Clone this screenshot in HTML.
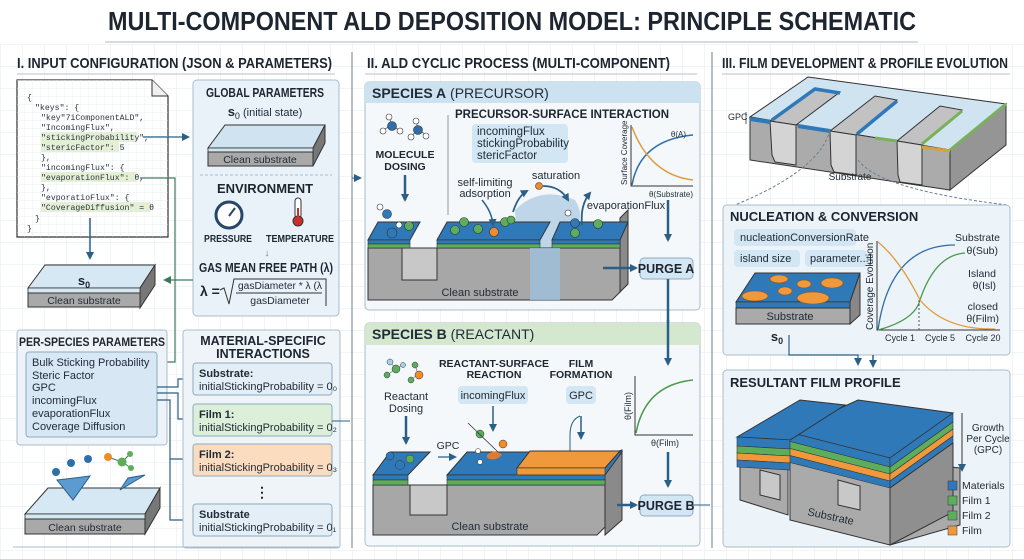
<!DOCTYPE html>
<html><head><meta charset="utf-8"><style>
html,body{margin:0;padding:0;background:#fff;}
svg{display:block;font-family:"Liberation Sans Narrow","Liberation Sans",sans-serif;}
.h{font-weight:bold;fill:#1d2530;}
.t{fill:#222c38;}
.m{font-family:"Liberation Mono",monospace;fill:#2a3340;}
</style></head><body>
<svg width="1024" height="559" viewBox="0 0 1024 559" xmlns="http://www.w3.org/2000/svg">
<defs>
<pattern id="grid" width="22" height="22" patternUnits="userSpaceOnUse"><path d="M22 0H0V22" fill="none" stroke="#e6ebf0" stroke-width="1"/></pattern>
<pattern id="g2" width="8" height="8" patternUnits="userSpaceOnUse"><path d="M8 0H0V8" fill="none" stroke="#e3e8ee" stroke-width="0.7"/></pattern>
<marker id="ar" markerWidth="8" markerHeight="8" refX="6" refY="4" orient="auto" markerUnits="userSpaceOnUse"><path d="M0,0 L8,4 L0,8 z" fill="#2b5f86"/></marker>
<marker id="arg" markerWidth="8" markerHeight="8" refX="6" refY="4" orient="auto" markerUnits="userSpaceOnUse"><path d="M0,0 L8,4 L0,8 z" fill="#3d7a5d"/></marker>
</defs>
<rect width="1024" height="559" fill="#fff"/>
<rect width="1024" height="559" fill="url(#grid)"/>
<rect x="0" y="0" width="1024" height="44" fill="#fff"/>
<text x="512" y="30" text-anchor="middle" class="h" font-size="26" textLength="808" lengthAdjust="spacingAndGlyphs">MULTI-COMPONENT ALD DEPOSITION MODEL: PRINCIPLE SCHEMATIC</text>
<line x1="105" y1="42" x2="918" y2="42" stroke="#c8cfd6" stroke-width="1.5"/>
<line x1="352" y1="52" x2="352" y2="548" stroke="#6d7d8c" stroke-width="1"/>
<line x1="712" y1="52" x2="712" y2="548" stroke="#6d7d8c" stroke-width="1"/>

<!-- SECTION I -->
<text x="17" y="68" class="h" font-size="15" textLength="315" lengthAdjust="spacingAndGlyphs">I. INPUT CONFIGURATION (JSON &amp; PARAMETERS)</text>
<line x1="17" y1="74" x2="335" y2="74" stroke="#d0d6dc" stroke-width="1.5"/>
<path d="M17 80 H152 L168 96 V237 H17 Z" fill="#fff" stroke="#333" stroke-width="1.2"/>
<path d="M17 80 H152 L168 96 V237 H17 Z" fill="url(#g2)"/>
<path d="M152 80 V96 H168" fill="#f0f0f0" stroke="#333" stroke-width="1"/>
<rect x="41" y="132" width="96" height="10" fill="#e4efd6"/>
<rect x="41" y="142" width="78" height="10" fill="#e4efd6"/>
<rect x="41" y="172" width="96" height="10" fill="#e4efd6"/>
<rect x="41" y="202" width="110" height="10" fill="#e4efd6"/>
<g class="m" font-size="8.2">
<text x="27" y="100">{</text>
<text x="35" y="110">"keys": {</text>
<text x="41" y="120">"key"7iComponentALD",</text>
<text x="41" y="130">"IncomingFlux",</text>
<text x="41" y="140">"stickingProbability",</text>
<text x="41" y="150">"stericFactor": 5</text>
<text x="41" y="160">},</text>
<text x="41" y="170">"incomingFlux": {</text>
<text x="41" y="180">"evaporationFlux": θ,</text>
<text x="41" y="190">},</text>
<text x="41" y="200">"evporatioFlux": {</text>
<text x="41" y="210">"CoverageDiffusion" = θ</text>
<text x="35" y="221">}</text>
<text x="27" y="231">}</text>
</g>
<path d="M143 137 H188" stroke="#2b5f86" stroke-width="1.3" fill="none" marker-end="url(#ar)"/>
<path d="M140 178 H175 V362 H160" stroke="#3d7a5d" stroke-width="1.2" fill="none"/>
<path d="M90 218 V258" stroke="#2b5f86" stroke-width="1.5" fill="none" marker-end="url(#ar)"/>
<rect x="193" y="80" width="146" height="236" rx="4" fill="#e9f2f9" stroke="#a9bccb"/>
<text x="265" y="97" text-anchor="middle" class="h" font-size="13" textLength="118" lengthAdjust="spacingAndGlyphs">GLOBAL PARAMETERS</text>
<text x="265" y="116" text-anchor="middle" class="t" font-size="11"><tspan font-weight="bold" font-size="13">s</tspan><tspan font-size="9" dy="3">0</tspan><tspan dy="-3"> (initial state)</tspan></text>
<polygon points="225,125 325,125 313,148 208,148" fill="#cfe3f1" stroke="#333"/>
<polygon points="325,125 325,143 313,166 313,148" fill="#777" stroke="#333"/>
<rect x="208" y="148" width="105" height="4" fill="#cfe3f1" stroke="#333" stroke-width="0.8"/>
<rect x="208" y="152" width="105" height="14" fill="#a9a9a9" stroke="#333"/>
<text x="260" y="163" text-anchor="middle" class="t" font-size="10.5">Clean substrate</text>
<line x1="200" y1="175" x2="332" y2="175" stroke="#a9bccb" stroke-dasharray="3,2"/>
<text x="265" y="193" text-anchor="middle" class="h" font-size="13">ENVIRONMENT</text>
<circle cx="229" cy="215" r="13" fill="#fff" stroke="#27476a" stroke-width="3"/>
<line x1="229" y1="216" x2="235" y2="208" stroke="#27476a" stroke-width="2"/>
<rect x="295" y="198" width="6" height="20" rx="3" fill="#fff" stroke="#333"/>
<circle cx="298" cy="221" r="5" fill="#c9302c" stroke="#333"/>
<rect x="297" y="208" width="2" height="12" fill="#c9302c"/>
<text x="228" y="242" text-anchor="middle" class="h" font-size="10.5" textLength="48" lengthAdjust="spacingAndGlyphs">PRESSURE</text>
<text x="300" y="242" text-anchor="middle" class="h" font-size="10.5" textLength="68" lengthAdjust="spacingAndGlyphs">TEMPERATURE</text>
<text x="267" y="256" text-anchor="middle" fill="#6a7f90" font-size="10">↓</text>
<text x="266" y="272" text-anchor="middle" class="h" font-size="12.5" textLength="134" lengthAdjust="spacingAndGlyphs">GAS MEAN FREE PATH (λ)</text>
<text x="200" y="296" class="h" font-size="14">λ =</text>
<path d="M220 290 L224 288 L229 304 L234 279 H326 V306" fill="none" stroke="#333" stroke-width="1"/>
<text x="280" y="289" text-anchor="middle" class="t" font-size="10" textLength="84" lengthAdjust="spacingAndGlyphs">gasDiameter * λ (λ</text>
<line x1="236" y1="293" x2="322" y2="293" stroke="#333"/>
<text x="280" y="304" text-anchor="middle" class="t" font-size="10.5">gasDiameter</text>
<path d="M193 280 H165" stroke="#3d7a5d" stroke-width="1.3" fill="none" marker-end="url(#arg)"/>
<polygon points="45,265 155,265 140,288 28,288" fill="#d6e8f4" stroke="#333"/>
<polygon points="155,265 155,285 140,308 140,288" fill="#777" stroke="#333"/>
<rect x="28" y="288" width="112" height="5" fill="#d6e8f4" stroke="#333" stroke-width="0.8"/>
<rect x="28" y="293" width="112" height="14" fill="#a9a9a9" stroke="#333"/>
<text x="84" y="285" text-anchor="middle" class="h" font-size="13">s<tspan font-size="9" dy="3">0</tspan></text>
<text x="84" y="304" text-anchor="middle" class="t" font-size="10.5">Clean substrate</text>
<rect x="17" y="330" width="150" height="115" rx="3" fill="#edf3f8" stroke="#a9bccb"/>
<text x="92" y="346" text-anchor="middle" class="h" font-size="12" textLength="146" lengthAdjust="spacingAndGlyphs">PER-SPECIES PARAMETERS</text>
<rect x="26" y="352" width="131" height="85" rx="3" fill="#d7e8f4" stroke="#8eaabf"/>
<g class="t" font-size="11">
<text x="32" y="366">Bulk Sticking Probability</text>
<text x="32" y="379">Steric Factor</text>
<text x="32" y="391">GPC</text>
<text x="32" y="404">incomingFlux</text>
<text x="32" y="417">evaporationFlux</text>
<text x="32" y="430">Coverage Diffusion</text>
</g>
<path d="M157 387 H178 V379 H190" stroke="#2b5f86" fill="none" stroke-width="1.2" marker-end="url(#ar)"/>
<path d="M157 393 H178 V419 H190" stroke="#2b5f86" fill="none" stroke-width="1.2" marker-end="url(#ar)"/>
<path d="M157 400 H170 V459 H190" stroke="#2b5f86" fill="none" stroke-width="1.2" marker-end="url(#ar)"/>
<path d="M170 459 V520 H190" stroke="#2b5f86" fill="none" stroke-width="1.2" marker-end="url(#ar)"/>
<rect x="183" y="330" width="157" height="218" rx="3" fill="#eef4f8" stroke="#a9bccb"/>
<text x="263" y="345" text-anchor="middle" class="h" font-size="12.5">MATERIAL-SPECIFIC</text>
<text x="263" y="358" text-anchor="middle" class="h" font-size="12.5">INTERACTIONS</text>
<rect x="193" y="363" width="139" height="32" rx="3" fill="#e3eef7" stroke="#8eaabf"/>
<rect x="193" y="404" width="139" height="32" rx="3" fill="#dcefd9" stroke="#8eaabf"/>
<rect x="193" y="444" width="139" height="32" rx="3" fill="#fbdcbf" stroke="#8eaabf"/>
<rect x="193" y="504" width="139" height="32" rx="3" fill="#e3eef7" stroke="#8eaabf"/>
<g font-size="11" class="t">
<text x="199" y="377" font-weight="bold">Substrate:</text><text x="199" y="390">initialStickingProbability = 0₀</text>
<text x="199" y="418" font-weight="bold">Film 1:</text><text x="199" y="431">initialStickingProbability = 0₂</text>
<text x="199" y="458" font-weight="bold">Film 2:</text><text x="199" y="471">initialStickingProbability = 0₃</text>
<text x="199" y="518" font-weight="bold">Substrate</text><text x="199" y="531">initialStickingProbability = 0₁</text>
</g>
<text x="262" y="497" text-anchor="middle" class="h" font-size="14">⋮</text>
<path d="M332 421 H350" stroke="#2b5f86" fill="none"/>
<line x1="13" y1="547" x2="340" y2="547" stroke="#a9bccb"/>
<polygon points="48,488 160,488 145,514 25,514" fill="#d6e8f4" stroke="#333"/>
<polygon points="160,488 160,508 145,534 145,514" fill="#777" stroke="#333"/>
<rect x="25" y="514" width="120" height="5" fill="#d6e8f4" stroke="#333" stroke-width="0.8"/>
<rect x="25" y="519" width="120" height="15" fill="#a9a9a9" stroke="#333"/>
<text x="85" y="531" text-anchor="middle" class="t" font-size="10.5">Clean substrate</text>
<path d="M57 480 Q75 478 90 476 L73 500 Z" fill="#5b9bd0" stroke="#2b5f86"/>
<path d="M120 490 L145 475 L128 478 Z" fill="#5b9bd0" stroke="#2b5f86"/>
<circle cx="56" cy="472" r="4" fill="#2f6ea8"/><circle cx="71" cy="463" r="4" fill="#2f6ea8"/><circle cx="88" cy="459" r="4" fill="#2f6ea8"/>
<line x1="108" y1="457" x2="122" y2="462" stroke="#3d7a5d"/><line x1="122" y1="462" x2="130" y2="454" stroke="#3d7a5d"/><line x1="122" y1="462" x2="131" y2="468" stroke="#3d7a5d"/>
<circle cx="108" cy="457" r="4" fill="#f08c2a"/><circle cx="122" cy="462" r="4.5" fill="#5cae5c"/><circle cx="130" cy="454" r="3" fill="#5cae5c"/><circle cx="131" cy="468" r="3" fill="#5cae5c"/>

<!-- SECTION II -->
<text x="367" y="68" class="h" font-size="15" textLength="303" lengthAdjust="spacingAndGlyphs">II. ALD CYCLIC PROCESS (MULTI-COMPONENT)</text>
<line x1="365" y1="74" x2="697" y2="74" stroke="#d0d6dc" stroke-width="1.5"/>
<path d="M352 178 H360" stroke="#2b5f86" marker-end="url(#ar)"/>
<rect x="365" y="82" width="335" height="228" rx="4" fill="#f4f8fb" stroke="#a9bccb"/>
<path d="M369 82 H696 Q700 82 700 86 V103 H365 V86 Q365 82 369 82 Z" fill="#cde2f0"/>
<text x="372" y="98" class="t" font-size="14"><tspan font-weight="bold">SPECIES A</tspan> (PRECURSOR)</text>
<line x1="448" y1="115" x2="448" y2="215" stroke="#999"/>
<text x="455" y="118" class="h" font-size="11.5">PRECURSOR-SURFACE INTERACTION</text>
<rect x="472" y="124" width="96" height="39" rx="4" fill="#d3e6f3"/>
<g class="t" font-size="11.5"><text x="477" y="135">incomingFlux</text><text x="477" y="147">stickingProbability</text><text x="477" y="159">stericFactor</text></g>
<g stroke="#333" stroke-width="0.6">
<line x1="383" y1="130" x2="392" y2="125" /><line x1="392" y1="125" x2="400" y2="131"/><line x1="392" y1="125" x2="389" y2="117"/>
<circle cx="383" cy="131" r="3" fill="#fff"/><circle cx="392" cy="126" r="4.5" fill="#2f6ea8"/><circle cx="400" cy="131" r="3" fill="#fff"/><circle cx="389" cy="117" r="3" fill="#fff"/>
<line x1="411" y1="137" x2="418" y2="129"/><line x1="418" y1="129" x2="426" y2="135"/><line x1="418" y1="129" x2="416" y2="121"/>
<circle cx="411" cy="137" r="3" fill="#fff"/><circle cx="418" cy="130" r="4.5" fill="#2f6ea8"/><circle cx="426" cy="136" r="3" fill="#fff"/><circle cx="416" cy="121" r="3" fill="#fff"/>
</g>
<text x="405" y="158" text-anchor="middle" class="h" font-size="10.5">MOLECULE</text>
<text x="405" y="170" text-anchor="middle" class="h" font-size="10.5">DOSING</text>
<path d="M405 175 V200" stroke="#2b5f86" stroke-width="2.5" marker-end="url(#ar)"/>
<text x="485" y="186" text-anchor="middle" class="t" font-size="11">self-limiting</text>
<text x="485" y="197" text-anchor="middle" class="t" font-size="11">adsorption</text>
<text x="556" y="179" text-anchor="middle" class="t" font-size="11">saturation</text>
<text x="626" y="209" text-anchor="middle" class="t" font-size="11">evaporationFlux</text>
<path d="M515 210 Q540 185 575 200 Q585 215 575 230 L560 300 L520 300 Z" fill="#a8c8e0" opacity="0.7"/>
<polygon points="368,248 620,248 620,292 612,300 368,300" fill="#a7a7a7" stroke="#333"/>
<polygon points="620,218 628,210 628,284 620,292" fill="#8a8a8a" stroke="#333"/>
<polygon points="402,248 437,248 437,280 402,280" fill="#c8c8c8" stroke="#333"/>
<polygon points="368,240 410,240 420,222 378,222" fill="#2f79b9" stroke="#333"/>
<rect x="368" y="240" width="42" height="4" fill="#2f79b9" stroke="#333" stroke-width="0.6"/>
<rect x="368" y="244" width="42" height="4" fill="#5cae5c" stroke="#333" stroke-width="0.6"/>
<polygon points="437,240 540,240 550,222 447,222" fill="#2f79b9" stroke="#333"/>
<rect x="437" y="240" width="103" height="4" fill="#2f79b9" stroke="#333" stroke-width="0.6"/>
<rect x="437" y="244" width="103" height="4" fill="#5cae5c" stroke="#333" stroke-width="0.6"/>
<polygon points="552,240 620,240 628,222 560,222" fill="#2f79b9" stroke="#333"/>
<rect x="552" y="240" width="68" height="4" fill="#2f79b9" stroke="#333" stroke-width="0.6"/>
<rect x="552" y="244" width="68" height="4" fill="#5cae5c" stroke="#333" stroke-width="0.6"/>
<path d="M530 248 L560 248 L560 300 L530 300 Z" fill="#9fc2de" opacity="0.8"/>
<text x="480" y="296" text-anchor="middle" class="t" font-size="11">Clean substrate</text>
<g stroke="#333" stroke-width="0.6">
<circle cx="392" cy="233" r="5" fill="#2f79b9"/><circle cx="409" cy="226" r="4.5" fill="#5cae5c"/><circle cx="399" cy="225" r="3" fill="#fff"/><circle cx="387" cy="214" r="4.5" fill="#2f79b9"/><circle cx="380" cy="207" r="3" fill="#fff"/>
<circle cx="455" cy="230" r="4.5" fill="#5cae5c"/><circle cx="464" cy="222" r="4.5" fill="#5cae5c"/><circle cx="478" cy="229" r="4.5" fill="#5cae5c"/><circle cx="494" cy="232" r="4.5" fill="#f08c2a"/><circle cx="505" cy="222" r="4.5" fill="#5cae5c"/><circle cx="511" cy="220" r="4" fill="#5cae5c"/>
<circle cx="575" cy="223" r="4.5" fill="#2f79b9"/><circle cx="568" cy="213" r="3" fill="#fff"/><circle cx="575" cy="233" r="4.5" fill="#5cae5c"/><circle cx="598" cy="224" r="4.5" fill="#5cae5c"/>
<circle cx="539" cy="186" r="3.5" fill="#f08c2a"/>
</g>
<path d="M482 200 Q492 212 493 225" stroke="#2b5f86" stroke-width="1.5" fill="none" marker-end="url(#ar)"/>
<path d="M513 212 Q518 196 527 191" stroke="#2b5f86" stroke-width="1.8" fill="none" marker-end="url(#ar)"/>
<path d="M543 186 Q560 186 568 200" stroke="#2b5f86" stroke-width="1.8" fill="none" marker-end="url(#ar)"/>
<path d="M582 225 Q580 205 590 193" stroke="#2b5f86" stroke-width="1.8" fill="none" marker-end="url(#ar)"/>
<path d="M631 125 V186 H693" stroke="#333" fill="none"/>
<path d="M632 185 Q640 140 693 135" stroke="#2f6ea8" stroke-width="1.5" fill="none"/>
<path d="M632 127 Q650 175 693 180" stroke="#e09a3a" stroke-width="1.5" fill="none"/>
<text x="686" y="137" text-anchor="end" class="t" font-size="8">θ(A)</text>
<text x="627" y="185" class="t" font-size="8" transform="rotate(-90 627 185)">Surface Coverage</text>
<text x="693" y="197" text-anchor="end" class="t" font-size="8">θ(Substrate)</text>
<path d="M668 200 V240" stroke="#2b5f86" stroke-width="2.5" marker-end="url(#ar)"/>
<path d="M603 268 H636" stroke="#2b5f86" stroke-width="2.5" marker-end="url(#ar)"/>
<rect x="640" y="258" width="53" height="21" rx="4" fill="#d3e6f3" stroke="#8eaabf"/>
<text x="666" y="273" text-anchor="middle" class="h" font-size="12.5">PURGE A</text>
<path d="M668 279 V365" stroke="#2b5f86" stroke-width="2.5" fill="none"/>
<rect x="365" y="323" width="335" height="223" rx="4" fill="#f4f8fb" stroke="#a9bccb"/>
<path d="M369 323 H696 Q700 323 700 327 V345 H365 V327 Q365 323 369 323 Z" fill="#d3e8cf"/>
<text x="372" y="339" class="t" font-size="14"><tspan font-weight="bold">SPECIES B</tspan> (REACTANT)</text>
<path d="M668 320 V364" stroke="#2b5f86" stroke-width="2.5" marker-end="url(#ar)"/>
<g stroke="#333" stroke-width="0.5">
<line x1="390" y1="362" x2="396" y2="369"/><line x1="396" y1="369" x2="387" y2="375"/><line x1="396" y1="369" x2="403" y2="365"/>
<circle cx="390" cy="362" r="3" fill="#a8d0e8"/><circle cx="396" cy="369" r="4" fill="#5cae5c"/><circle cx="387" cy="375" r="3" fill="#5cae5c"/><circle cx="403" cy="365" r="2.5" fill="#a8d0e8"/>
<line x1="415" y1="365" x2="418" y2="374"/><line x1="418" y1="374" x2="411" y2="380"/>
<circle cx="415" cy="365" r="3" fill="#5cae5c"/><circle cx="419" cy="375" r="4" fill="#f08c2a"/><circle cx="411" cy="380" r="3" fill="#5cae5c"/>
</g>
<text x="406" y="400" text-anchor="middle" class="t" font-size="11">Reactant</text>
<text x="406" y="412" text-anchor="middle" class="t" font-size="11">Dosing</text>
<path d="M406 416 V443" stroke="#2b5f86" stroke-width="2.5" marker-end="url(#ar)"/>
<text x="494" y="367" text-anchor="middle" class="h" font-size="10.5">REACTANT-SURFACE</text>
<text x="494" y="378" text-anchor="middle" class="h" font-size="10.5">REACTION</text>
<rect x="458" y="386" width="70" height="18" rx="4" fill="#d3e6f3"/>
<text x="493" y="399" text-anchor="middle" class="t" font-size="11">incomingFlux</text>
<path d="M493 406 V430" stroke="#2b5f86" stroke-width="1.5" marker-end="url(#ar)"/>
<text x="581" y="367" text-anchor="middle" class="h" font-size="10.5">FILM</text>
<text x="581" y="378" text-anchor="middle" class="h" font-size="10.5">FORMATION</text>
<rect x="566" y="386" width="30" height="18" rx="4" fill="#d3e6f3"/>
<text x="581" y="399" text-anchor="middle" class="t" font-size="11">GPC</text>
<path d="M580 416 Q570 420 570 435 V458" stroke="#2b5f86" stroke-width="1" fill="none"/>
<path d="M581 416 V438" stroke="#2b5f86" stroke-width="1.5" marker-end="url(#ar)"/>
<text x="448" y="449" text-anchor="middle" class="t" font-size="10.5">GPC</text>
<path d="M438 457 H455" stroke="#2b5f86" stroke-width="1.3" marker-end="url(#ar)"/>
<polygon points="373,485 605,485 605,527 597,535 373,535" fill="#a7a7a7" stroke="#333"/>
<polygon points="605,456 622,450 622,520 605,535" fill="#8a8a8a" stroke="#333"/>
<polygon points="410,485 447,485 447,515 410,515" fill="#c8c8c8" stroke="#333"/>
<polygon points="373,475 408,475 430,452 390,452" fill="#2f79b9" stroke="#333"/>
<rect x="373" y="475" width="35" height="5" fill="#2f79b9" stroke="#333" stroke-width="0.6"/><rect x="373" y="480" width="35" height="5" fill="#5cae5c" stroke="#333" stroke-width="0.6"/>
<polygon points="447,475 605,475 622,452 467,452" fill="#2f79b9" stroke="#333"/>
<polygon points="517,468 605,468 620,451 530,451" fill="#f0993c" stroke="#333"/>
<rect x="517" y="468" width="88" height="7" fill="#f0993c" stroke="#333" stroke-width="0.6"/>
<rect x="447" y="475" width="158" height="5" fill="#2f79b9" stroke="#333" stroke-width="0.6"/><rect x="447" y="480" width="158" height="5" fill="#5cae5c" stroke="#333" stroke-width="0.6"/>
<text x="490" y="530" text-anchor="middle" class="t" font-size="11">Clean substrate</text>
<g stroke="#333" stroke-width="0.5">
<circle cx="390" cy="456" r="4" fill="#2f79b9"/><circle cx="400" cy="465" r="4.5" fill="#2f79b9"/><circle cx="410" cy="459" r="4" fill="#5cae5c"/>
<circle cx="480" cy="434" r="4" fill="#5cae5c"/><circle cx="503" cy="444" r="4" fill="#f08c2a"/><circle cx="478" cy="451" r="2.5" fill="#fff"/><circle cx="480" cy="462" r="2.5" fill="#fff"/>
</g>
<path d="M487 455 Q495 448 502 455 Q495 462 487 458 Z" fill="#e07a30"/>
<path d="M468 423 L498 452" stroke="#333" stroke-width="0.8"/>
<path d="M635 376 V435 H693" stroke="#333" fill="none"/>
<path d="M636 433 Q645 385 693 380" stroke="#4a9a4a" stroke-width="1.5" fill="none"/>
<text x="631" y="420" class="t" font-size="9" transform="rotate(-90 631 420)">θ(Film)</text>
<text x="665" y="446" text-anchor="middle" class="t" font-size="9">θ(Film)</text>
<path d="M668 452 V486" stroke="#2b5f86" stroke-width="2.5" marker-end="url(#ar)"/>
<path d="M617 505 H636" stroke="#2b5f86" stroke-width="2.5" marker-end="url(#ar)"/>
<rect x="640" y="495" width="53" height="21" rx="4" fill="#d3e6f3" stroke="#8eaabf"/>
<text x="666" y="510" text-anchor="middle" class="h" font-size="12.5">PURGE B</text>
<path d="M693 505 H710" stroke="#2b5f86" fill="none"/>

<!-- SECTION III -->
<text x="722" y="68" class="h" font-size="15" textLength="286" lengthAdjust="spacingAndGlyphs">III. FILM DEVELOPMENT &amp; PROFILE EVOLUTION</text>
<line x1="722" y1="74" x2="1010" y2="74" stroke="#d0d6dc" stroke-width="1.5"/>
<!-- trench block -->
<polygon points="808,77 1006,104 950,150 750,117" fill="#cfe3f1" stroke="#333"/>
<polygon points="750,117 950,150 950,190 750,160" fill="#ababab" stroke="#333"/>
<polygon points="950,150 1006,104 1006,145 950,190" fill="#959595" stroke="#333"/>
<!-- trench openings -->
<polygon points="770,121 815,88 840,92 796,125" fill="#c2c2c2" stroke="#333"/>
<polygon points="770,121 796,125 796,165 775,162 772,155" fill="#d4d4d4" stroke="#333"/>
<polygon points="830,131 875,96 897,100 856,135" fill="#c2c2c2" stroke="#333"/>
<polygon points="830,131 856,135 856,175 834,172 831,165" fill="#d4d4d4" stroke="#333"/>
<polygon points="897,141 940,106 962,110 922,145" fill="#c2c2c2" stroke="#333"/>
<polygon points="897,141 922,145 922,185 900,182 898,175" fill="#d4d4d4" stroke="#333"/>
<path d="M750 119 L770 122" stroke="#2f79b9" stroke-width="4"/>
<path d="M772 120 L815 89 L840 93" stroke="#2f79b9" stroke-width="3.5" fill="none"/>
<path d="M798 126 L830 131" stroke="#2f79b9" stroke-width="4"/>
<path d="M857 134 L897 101" stroke="#2f79b9" stroke-width="3.5"/>
<path d="M875 138 L897 141" stroke="#7ab05a" stroke-width="3"/>
<path d="M922 144 L962 111" stroke="#7ab05a" stroke-width="3"/>
<path d="M922 147 L950 151" stroke="#d8a040" stroke-width="3"/>
<path d="M950 150 L1006 104" stroke="#7ab05a" stroke-width="3"/>
<text x="850" y="180" text-anchor="middle" class="t" font-size="10">Substrate</text>
<text x="728" y="120" class="t" font-size="9">GPC</text>
<path d="M746 112 V124" stroke="#333" stroke-width="0.8"/>
<path d="M830 130 Q820 170 735 205 M858 160 Q880 190 1008 205" stroke="#6a7f90" stroke-dasharray="3,2" fill="none"/>
<!-- nucleation -->
<rect x="723" y="205" width="287" height="150" rx="4" fill="#edf4f9" stroke="#a9bccb"/>
<text x="730" y="221" class="h" font-size="13">NUCLEATION &amp; CONVERSION</text>
<rect x="734" y="229" width="122" height="17" rx="4" fill="#d3e6f3"/>
<text x="740" y="241" class="t" font-size="11">nucleationConversionRate</text>
<rect x="734" y="250" width="66" height="17" rx="4" fill="#d3e6f3"/>
<text x="740" y="262" class="t" font-size="11">island size</text>
<rect x="805" y="250" width="62" height="17" rx="4" fill="#d3e6f3"/>
<text x="810" y="262" class="t" font-size="11">parameter...]</text>
<polygon points="755,273 860,273 850,302 736,302" fill="#2f79b9" stroke="#333"/>
<rect x="736" y="302" width="114" height="6" fill="#2f79b9" stroke="#333" stroke-width="0.6"/>
<rect x="736" y="308" width="114" height="16" fill="#aaa" stroke="#333"/>
<polygon points="850,302 860,273 860,315 850,324" fill="#888" stroke="#333"/>
<text x="790" y="320" text-anchor="middle" class="t" font-size="11">Substrate</text>
<g fill="#f0993c" stroke="#8a5520" stroke-width="0.6">
<ellipse cx="779" cy="279" rx="9" ry="4"/><ellipse cx="804" cy="284" rx="7" ry="4"/><ellipse cx="832" cy="283" rx="11" ry="5"/>
<ellipse cx="785" cy="291" rx="7" ry="4"/><ellipse cx="755" cy="296" rx="13" ry="5"/><ellipse cx="813" cy="298" rx="16" ry="6"/>
</g>
<text x="777" y="341" text-anchor="middle" class="h" font-size="13">s<tspan font-size="9" dy="3">0</tspan></text>
<path d="M877 241 V330 H1000" stroke="#333" fill="none"/>
<path d="M878 330 Q890 245 955 245" stroke="#2f6ea8" stroke-width="1.3" fill="none"/>
<path d="M878 330 Q915 320 920 300 Q935 255 965 253" stroke="#4a9a4a" stroke-width="1.3" fill="none"/>
<path d="M878 242 Q900 260 920 300 Q945 330 995 329" stroke="#e09a3a" stroke-width="1.3" fill="none"/>
<line x1="919" y1="300" x2="919" y2="330" stroke="#555" stroke-dasharray="2,2"/>
<text x="873" y="330" class="t" font-size="10" transform="rotate(-90 873 330)">Coverage Evolution</text>
<g class="t" font-size="10.5" text-anchor="middle">
<text x="1000" y="241" text-anchor="end">Substrate</text><text x="998" y="254" text-anchor="end">θ(Sub)</text>
<text x="996" y="277" text-anchor="end">Island</text><text x="996" y="289" text-anchor="end">θ(Isl)</text>
<text x="998" y="310" text-anchor="end">closed</text><text x="999" y="322" text-anchor="end">θ(Film)</text>
<text x="900" y="341" font-size="9">Cycle 1</text><text x="940" y="341" font-size="9">Cycle 5</text><text x="983" y="341" font-size="9">Cycle 20</text>
</g>
<path d="M789 335 V355 H858 V364" stroke="#2b5f86" stroke-width="1.2" fill="none" marker-end="url(#ar)"/>
<path d="M873 355 V366" stroke="#2b5f86" stroke-width="1.5" marker-end="url(#ar)"/>
<!-- resultant -->
<rect x="723" y="370" width="287" height="177" rx="4" fill="#edf4f9" stroke="#a9bccb"/>
<text x="730" y="387" class="h" font-size="13">RESULTANT FILM PROFILE</text>
<polygon points="790,450 960,468 960,525 890,545 790,520" fill="#aaa" stroke="#333"/>
<polygon points="858,400 953,413 890,458 788,432" fill="#2f79b9" stroke="#333"/>
<polygon points="788,432 890,458 890,467 788,441" fill="#2f79b9" stroke="#333" stroke-width="0.6"/>
<polygon points="788,441 890,467 890,474 788,448" fill="#5cae5c" stroke="#333" stroke-width="0.6"/>
<polygon points="788,448 890,474 890,481 788,455" fill="#f0993c" stroke="#333" stroke-width="0.6"/>
<polygon points="788,455 890,481 890,488 788,462" fill="#2f79b9" stroke="#333" stroke-width="0.6"/>
<polygon points="890,458 953,413 953,422 890,467" fill="#2f79b9" stroke="#333" stroke-width="0.6"/>
<polygon points="890,467 953,422 953,429 890,474" fill="#5cae5c" stroke="#333" stroke-width="0.6"/>
<polygon points="890,474 953,429 953,436 890,481" fill="#f0993c" stroke="#333" stroke-width="0.6"/>
<polygon points="890,481 953,436 953,443 890,488" fill="#2f79b9" stroke="#333" stroke-width="0.6"/>
<polygon points="890,488 953,443 953,512 890,545" fill="#8f8f8f" stroke="#333"/>
<polygon points="740,445 788,460 788,515 740,500" fill="#aaa" stroke="#333"/>
<polygon points="760,470 780,475 780,500 760,495" fill="#c8c8c8" stroke="#333"/>
<polygon points="838,480 860,486 860,510 838,505" fill="#c8c8c8" stroke="#333"/>
<polygon points="737,437 800,400 845,405 790,440" fill="#2f79b9" stroke="#333"/>
<polygon points="737,437 790,440 790,449 737,446" fill="#2f79b9" stroke="#333" stroke-width="0.6"/>
<polygon points="737,446 790,449 790,456 737,453" fill="#5cae5c" stroke="#333" stroke-width="0.6"/>
<polygon points="737,453 790,456 790,463 737,460" fill="#f0993c" stroke="#333" stroke-width="0.6"/>
<polygon points="737,460 790,463 790,470 737,467" fill="#2f79b9" stroke="#333" stroke-width="0.6"/>
<text x="830" y="520" text-anchor="middle" class="t" font-size="11" transform="rotate(12 830 520)">Substrate</text>
<path d="M962 413 V470" stroke="#333" stroke-width="1" marker-end="url(#ar)"/>
<g class="t" font-size="10" text-anchor="middle"><text x="988" y="431">Growth</text><text x="988" y="442">Per Cycle</text><text x="988" y="453">(GPC)</text></g>
<g font-size="10.5" class="t">
<rect x="948" y="481" width="9" height="9" fill="#2f79b9" stroke="#333" stroke-width="0.5"/><text x="962" y="489">Materials</text>
<rect x="948" y="496" width="9" height="9" fill="#5cae5c" stroke="#333" stroke-width="0.5"/><text x="962" y="504">Film 1</text>
<rect x="948" y="511" width="9" height="9" fill="#5cae5c" stroke="#333" stroke-width="0.5"/><text x="962" y="519">Film 2</text>
<rect x="948" y="526" width="9" height="9" fill="#f0993c" stroke="#333" stroke-width="0.5"/><text x="962" y="534">Film</text>
</g>
</svg>
</body></html>
